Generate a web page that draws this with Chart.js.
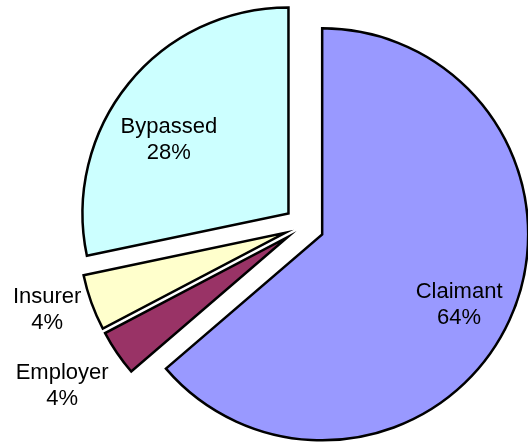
<!DOCTYPE html>
<html>
<head>
<meta charset="utf-8">
<script src="https://cdn.jsdelivr.net/npm/chart.js@4/dist/chart.umd.min.js"></script>
<style>
  html, body { margin: 0; padding: 0; background: #ffffff; }
  #wrap { width: 528px; height: 443px; }
</style>
</head>
<body>
<div id="wrap"><canvas id="c" width="528" height="443"></canvas></div>
<script>
const categories = ['Claimant', 'Employer', 'Insurer', 'Bypassed'];
const shares = [63.7, 3.6, 4.4, 28.3];
const sliceColors = ['#9999FF', '#993366', '#FFFFCC', '#CCFFFF'];

const EXPLODE = 20;
// label placement: fraction of radius and angle tweak (deg), per slice
const labelRadius = [0.845, 1.408, 1.311, 0.777];
const labelShift = [2.35, 0.7, 1.8, -6.65];

const explodePlugin = {
  id: 'explode',
  beforeDatasetDraw(chart, args) {
    const ctx = chart.ctx;
    args.meta.data.forEach(arc => {
      const mid = (arc.startAngle + arc.endAngle) / 2;
      ctx.save();
      ctx.translate(Math.cos(mid) * EXPLODE, Math.sin(mid) * EXPLODE);
      arc.draw(ctx);
      ctx.restore();
    });
    return false;
  }
};

const labelPlugin = {
  id: 'sliceLabels',
  afterDatasetsDraw(chart) {
    const ctx = chart.ctx;
    const meta = chart.getDatasetMeta(0);
    const data = chart.data.datasets[0].data;
    const total = data.reduce((a, b) => a + b, 0);
    ctx.save();
    ctx.font = '22px "Liberation Sans", Arial, sans-serif';
    ctx.fillStyle = '#000000';
    ctx.textAlign = 'center';
    ctx.textBaseline = 'middle';
    meta.data.forEach((arc, i) => {
      const mid = (arc.startAngle + arc.endAngle) / 2 + labelShift[i] * Math.PI / 180;
      const r = arc.outerRadius * labelRadius[i];
      const x = arc.x + Math.cos(mid) * r;
      const y = arc.y + Math.sin(mid) * r;
      ctx.fillText(chart.data.labels[i], x, y - 13);
      ctx.fillText(Math.round(data[i] / total * 100) + '%', x, y + 13);
    });
    ctx.restore();
  }
};

new Chart(document.getElementById('c'), {
  type: 'pie',
  data: {
    labels: categories,
    datasets: [{
      data: shares,
      backgroundColor: sliceColors,
      borderColor: '#000000',
      borderWidth: 2.5,
      borderJoinStyle: 'miter',
      clip: false
    }]
  },
  options: {
    responsive: false,
    animation: false,
    radius: 206,
    layout: { padding: { left: 80, right: 0, top: 9, bottom: 0 } },
    plugins: {
      legend: { display: false },
      tooltip: { enabled: false }
    }
  },
  plugins: [explodePlugin, labelPlugin]
});
</script>
</body>
</html>
